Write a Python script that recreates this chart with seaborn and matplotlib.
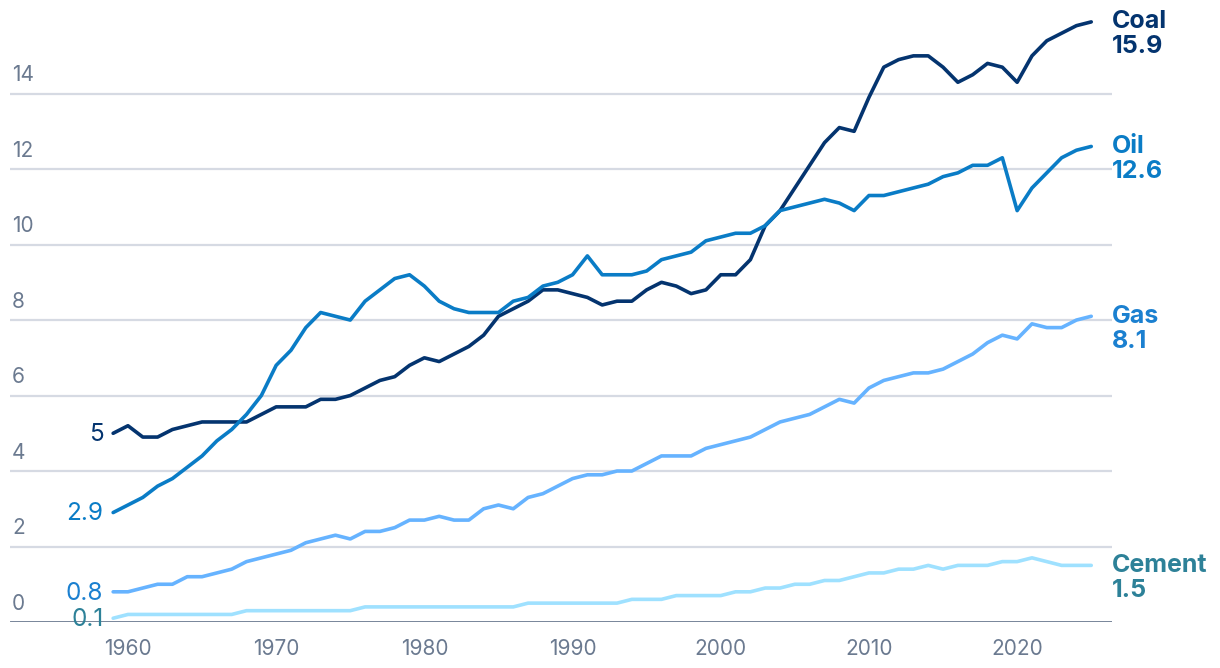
import pandas as pd
import numpy as np
import matplotlib
matplotlib.use("Agg")
import matplotlib.pyplot as plt
import seaborn as sns

# yearly values, 1959-2025
years = list(range(1959, 2026))

coal = [5.0, 5.2, 4.9, 4.9, 5.1, 5.2, 5.3, 5.3, 5.3, 5.3,
        5.5, 5.7, 5.7, 5.7, 5.9, 5.9, 6.0, 6.2, 6.4, 6.5,
        6.8, 7.0, 6.9, 7.1, 7.3, 7.6, 8.1, 8.3, 8.5, 8.8,
        8.8, 8.7, 8.6, 8.4, 8.5, 8.5, 8.8, 9.0, 8.9, 8.7,
        8.8, 9.2, 9.2, 9.6, 10.5, 10.9, 11.5, 12.1, 12.7, 13.1,
        13.0, 13.9, 14.7, 14.9, 15.0, 15.0, 14.7, 14.3, 14.5, 14.8,
        14.7, 14.3, 15.0, 15.4, 15.6, 15.8, 15.9]

oil = [2.9, 3.1, 3.3, 3.6, 3.8, 4.1, 4.4, 4.8, 5.1, 5.5,
       6.0, 6.8, 7.2, 7.8, 8.2, 8.1, 8.0, 8.5, 8.8, 9.1,
       9.2, 8.9, 8.5, 8.3, 8.2, 8.2, 8.2, 8.5, 8.6, 8.9,
       9.0, 9.2, 9.7, 9.2, 9.2, 9.2, 9.3, 9.6, 9.7, 9.8,
       10.1, 10.2, 10.3, 10.3, 10.5, 10.9, 11.0, 11.1, 11.2, 11.1,
       10.9, 11.3, 11.3, 11.4, 11.5, 11.6, 11.8, 11.9, 12.1, 12.1,
       12.3, 10.9, 11.5, 11.9, 12.3, 12.5, 12.6]

gas = [0.8, 0.8, 0.9, 1.0, 1.0, 1.2, 1.2, 1.3, 1.4, 1.6,
       1.7, 1.8, 1.9, 2.1, 2.2, 2.3, 2.2, 2.4, 2.4, 2.5,
       2.7, 2.7, 2.8, 2.7, 2.7, 3.0, 3.1, 3.0, 3.3, 3.4,
       3.6, 3.8, 3.9, 3.9, 4.0, 4.0, 4.2, 4.4, 4.4, 4.4,
       4.6, 4.7, 4.8, 4.9, 5.1, 5.3, 5.4, 5.5, 5.7, 5.9,
       5.8, 6.2, 6.4, 6.5, 6.6, 6.6, 6.7, 6.9, 7.1, 7.4,
       7.6, 7.5, 7.9, 7.8, 7.8, 8.0, 8.1]

cement = [0.1, 0.2, 0.2, 0.2, 0.2, 0.2, 0.2, 0.2, 0.2, 0.3,
          0.3, 0.3, 0.3, 0.3, 0.3, 0.3, 0.3, 0.4, 0.4, 0.4,
          0.4, 0.4, 0.4, 0.4, 0.4, 0.4, 0.4, 0.4, 0.5, 0.5,
          0.5, 0.5, 0.5, 0.5, 0.5, 0.6, 0.6, 0.6, 0.7, 0.7,
          0.7, 0.7, 0.8, 0.8, 0.9, 0.9, 1.0, 1.0, 1.1, 1.1,
          1.2, 1.3, 1.3, 1.4, 1.4, 1.5, 1.4, 1.5, 1.5, 1.5,
          1.6, 1.6, 1.7, 1.6, 1.5, 1.5, 1.5]

sources = ["Coal", "Oil", "Gas", "Cement"]
line_colors = {"Coal": "#04346f", "Oil": "#0a7cc6", "Gas": "#66b3ff", "Cement": "#9fe1ff"}
label_colors = {"Coal": "#04346f", "Oil": "#0a7cc6", "Gas": "#1b80d0", "Cement": "#2d8198"}

y_ticks = [0, 2, 4, 6, 8, 10, 12, 14]
x_ticks = [1960, 1970, 1980, 1990, 2000, 2010, 2020]

df = pd.DataFrame({"year": years, "Coal": coal, "Oil": oil, "Gas": gas, "Cement": cement})
long = df.melt(id_vars="year", var_name="source", value_name="value")

sns.set_theme(style="white")
plt.rcParams["font.family"] = ["Inter", "DejaVu Sans"]

fig = plt.figure(figsize=(12.2, 6.68), dpi=100)
ax = fig.add_axes([10 / 1220, 46 / 668, 1102 / 1220, 622 / 668])

tick_grey = "#6b7a90"

# gridlines
for t in y_ticks[1:]:
    ax.axhline(t, color="#d6dae3", lw=1.6, zorder=0)
ax.axhline(0, color=tick_grey, lw=2, zorder=1)

sns.lineplot(data=long, x="year", y="value", hue="source", hue_order=sources,
             palette=line_colors, lw=2.6, legend=False, ax=ax,
             solid_capstyle="round", zorder=3)

ax.set_xlim(1952.04, 2026.4)
ax.set_ylim(0, 16.48)
sns.despine(ax=ax, left=True, bottom=True, right=True, top=True)
ax.set_xlabel("")
ax.set_ylabel("")
ax.set_yticks([])
ax.set_xticks(x_ticks)
ax.set_xticklabels([str(x) for x in x_ticks], fontsize=15, color=tick_grey)
ax.tick_params(axis="x", length=0, pad=12)

# y labels sit above their gridlines
for t in y_ticks:
    ax.annotate(str(t), xy=(0, t), xycoords=ax.get_yaxis_transform(),
                xytext=(1.5, 6), textcoords="offset points",
                ha="left", va="bottom", fontsize=15, color=tick_grey)

# start and end labels
series = {"Coal": coal, "Oil": oil, "Gas": gas, "Cement": cement}
for s in sources:
    vals = series[s]
    first = vals[0]
    start_txt = f"{first:g}"
    ax.annotate(start_txt, xy=(years[0], first), xytext=(-7, -1),
                textcoords="offset points", ha="right", va="center",
                fontsize=17.5, color=label_colors[s], zorder=4)
    last = vals[-1]
    ax.annotate(s, xy=(years[-1], last), xytext=(14.5, 0),
                textcoords="offset points", ha="left", va="center",
                fontsize=18, fontweight="bold", color=label_colors[s])
    ax.annotate(f"{last:g}", xy=(years[-1], last), xytext=(14.5, -18),
                textcoords="offset points", ha="left", va="center",
                fontsize=18, fontweight="bold", color=label_colors[s])

fig.savefig("out.png", dpi=100)
